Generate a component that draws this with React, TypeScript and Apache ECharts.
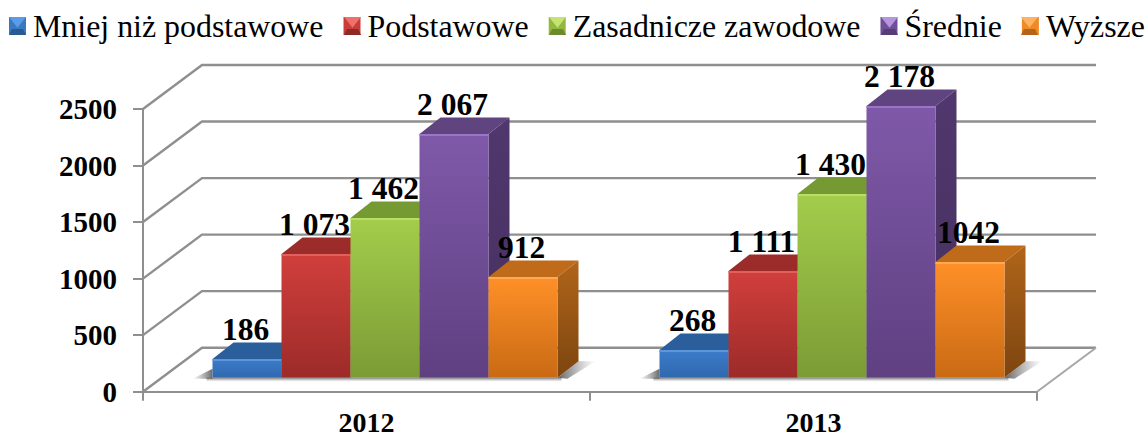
import React, { useEffect, useRef } from "react";
import * as echarts from "echarts";

const years = ["2012", "2013"];
const yTicks = [0, 500, 1000, 1500, 2000, 2500];
const seriesNames = ["Mniej niż podstawowe", "Podstawowe", "Zasadnicze zawodowe", "Średnie", "Wyższe"];
// drawn heights (the picture's printed labels differ from them)
const mniej = [165, 245];
const podstawowe = [1094, 944];
const zasadnicze = [1412, 1625];
const srednie = [2155, 2403];
const wyzsze = [890, 1023];
const mniejLabels = ["186", "268"];
const podstawoweLabels = ["1 073", "1 111"];
const zasadniczeLabels = ["1 462", "1 430"];
const srednieLabels = ["2 067", "2 178"];
const wyzszeLabels = ["912", "1042"];

const allValues = [mniej, podstawowe, zasadnicze, srednie, wyzsze];
const allLabels = [mniejLabels, podstawoweLabels, zasadniczeLabels, srednieLabels, wyzszeLabels];

const palette = [
  { base: "#3a78c2", light: "#3c7ccb", dark: "#3068ae", top: "#2b5f9c", sideA: "#2a5a94", sideB: "#234c7e", hi: "#5c97dc", iconTop: "#5b9ce6", iconBot: "#2a5a8f" },
  { base: "#c93c39", light: "#d13f3c", dark: "#9c2b29", top: "#9c2c2a", sideA: "#98302e", sideB: "#7a2423", hi: "#e2605c", iconTop: "#ef6f6b", iconBot: "#8c2a28" },
  { base: "#93b83f", light: "#a3cd4b", dark: "#7b9b35", top: "#769a33", sideA: "#76962f", sideB: "#5f7a26", hi: "#b9dd66", iconTop: "#c5e46f", iconBot: "#6d8a2e" },
  { base: "#6f4f97", light: "#7f59a9", dark: "#5f4081", top: "#60447f", sideA: "#50376d", sideB: "#46305f", hi: "#9a76c4", iconTop: "#b596dc", iconBot: "#573d78" },
  { base: "#ef8a24", light: "#ff9028", dark: "#c96a14", top: "#c06b1a", sideA: "#b0651a", sideB: "#7d4510", hi: "#ffab55", iconTop: "#ffb264", iconBot: "#b5621a" },
];

const GRAY = "#8f8f8f";
const FONT = '"Liberation Serif", "Times New Roman", serif';
const WALL_DX = 59;
const WALL_DY = 44;
const BAR_SHIFT_X = 18.5;
const BAR_LIFT = 14;
const BAR_DX = 21;
const BAR_DY = 16.5;
const BAR_W = 69;
const ICON_LEFT = [9, 344, 549, 881, 1021];
const ICON_TOP = 17;
const ICON_W = 17;
const ICON_H = 18;

function wallItem(params: any, api: any) {
  const v = api.value(0);
  const cs = params.coordSys;
  const y = api.coord([0, v])[1];
  const left = cs.x;
  const right = cs.x + cs.width;
  const line = { stroke: GRAY, lineWidth: 2.4, fill: "none" };
  const children: any[] = [
    { type: "polyline", shape: { points: [[left, y], [left + WALL_DX, y - WALL_DY], [right + WALL_DX, y - WALL_DY]] }, style: line },
  ];
  if (v === 0) {
    children.push({ type: "line", shape: { x1: right, y1: y, x2: right + WALL_DX, y2: y - WALL_DY }, style: { stroke: "#a6a6a6", lineWidth: 2 } });
  }
  return { type: "group", children };
}

function shadowItem(params: any, api: any) {
  const c = api.coord([api.value(0), 0]);
  const cl = c[0] + BAR_SHIFT_X - 2.5 * BAR_W;
  const cr = cl + 5 * BAR_W;
  const base = c[1] - BAR_LIFT;
  const horiz = (a: string, b: string) => ({ type: "linear", x: 0, y: 0, x2: 1, y2: 0, colorStops: [{ offset: 0, color: a }, { offset: 1, color: b }] });
  const down = { type: "linear", x: 0, y: 0, x2: 0, y2: 1, colorStops: [{ offset: 0, color: "rgba(90,90,90,0.8)" }, { offset: 1, color: "rgba(150,150,150,0)" }] };
  return {
    type: "group",
    children: [
      { type: "polygon", shape: { points: [[cl - 20, base + 1], [cl, base - 9], [cl, base + 1]] }, style: { fill: horiz("rgba(110,110,110,0)", "rgba(80,80,80,0.85)") } },
      { type: "polygon", shape: { points: [[cr, base], [cr + BAR_DX, base - BAR_DY], [cr + 38, base - BAR_DY], [cr + 10, base + 1]] }, style: { fill: horiz("rgba(80,80,80,0.9)", "rgba(130,130,130,0)") } },
      { type: "rect", shape: { x: cl - 6, y: base, width: 5 * BAR_W + 10, height: 4 }, style: { fill: down } },
    ],
  };
}

function barItem(s: number) {
  return (params: any, api: any) => {
    const idx = api.value(0);
    const p = palette[s];
    const top = api.coord([idx, api.value(1)]);
    const zero = api.coord([idx, 0]);
    const x = zero[0] + BAR_SHIFT_X + (s - 2.5) * BAR_W;
    const yb = zero[1] - BAR_LIFT;
    const yt = top[1] - BAR_LIFT;
    const x2 = x + BAR_W;
    const vert = (a: string, b: string) => ({ type: "linear", x: 0, y: 0, x2: 0, y2: 1, colorStops: [{ offset: 0, color: a }, { offset: 1, color: b }] });
    return {
      type: "group",
      children: [
        { type: "polygon", shape: { points: [[x, yt], [x + BAR_DX, yt - BAR_DY], [x2 + BAR_DX, yt - BAR_DY], [x2, yt]] }, style: { fill: p.top } },
        { type: "polygon", shape: { points: [[x2, yt], [x2 + BAR_DX, yt - BAR_DY], [x2 + BAR_DX, yb - BAR_DY], [x2, yb]] }, style: { fill: vert(p.sideA, p.sideB) } },
        { type: "rect", shape: { x, y: yt, width: BAR_W, height: yb - yt }, style: { fill: vert(p.light, p.dark) } },
        { type: "rect", shape: { x, y: yt, width: BAR_W, height: 2 }, style: { fill: p.hi } },
        {
          type: "text",
          z2: 100,
          style: {
            x: x + BAR_W / 2 - 1.5,
            y: yt - BAR_DY + 3,
            text: allLabels[s][params.dataIndex],
            fill: "#000",
            align: "center",
            verticalAlign: "bottom",
            font: `bold 31.5px ${FONT}`,
          },
        },
      ],
    };
  };
}

function iconBevels() {
  const out: any[] = [];
  ICON_LEFT.forEach((l, i) => {
    const p = palette[i];
    const r = l + ICON_W;
    const b = ICON_TOP + ICON_H;
    const ix = 3;
    const midY = ICON_TOP + ICON_H * 0.48;
    out.push({ type: "polygon", z: 20, shape: { points: [[l, ICON_TOP], [r, ICON_TOP], [l + ICON_W / 2, midY + 2]] }, style: { fill: p.iconTop } });
    out.push({ type: "polygon", z: 20, shape: { points: [[l, b], [r, b], [r - ix, b - 6], [l + ix, b - 6]] }, style: { fill: p.iconBot } });
  });
  return out;
}

export default function App() {
  const ref = useRef<HTMLDivElement>(null);
  useEffect(() => {
    const chart = echarts.init(ref.current!, null, { renderer: "svg" });
    const barSeries = seriesNames.map((name, s) => ({
      type: "custom",
      name,
      z: 5,
      renderItem: barItem(s),
      itemStyle: { color: palette[s].base },
      encode: { x: 0, y: 1 },
      data: allValues[s].map((v, i) => [i, v]),
    }));
    chart.setOption({
      animation: false,
      backgroundColor: "#fff",
      textStyle: { fontFamily: FONT },
      legend: {
        left: 9,
        top: 10,
        width: 1300,
        itemGap: 20,
        itemWidth: ICON_W,
        itemHeight: ICON_H,
        selectedMode: false,
        padding: 0,
        icon: "rect",
        textStyle: { fontFamily: FONT, fontSize: 31.9, color: "#000", padding: [0, 0, 0, 2] },
        data: seriesNames.map((name, s) => ({ name, icon: "rect", itemStyle: { color: palette[s].base } })),
      },
      grid: { left: 143, top: 109, width: 894, height: 282.7, containLabel: false, outerBoundsMode: "none" },
      xAxis: {
        type: "category",
        data: years,
        axisLine: { show: true, lineStyle: { color: GRAY, width: 2 } },
        axisTick: { show: true, length: 9, lineStyle: { color: GRAY, width: 2 } },
        axisLabel: { color: "#000", fontFamily: FONT, fontWeight: "bold", fontSize: 28, margin: 17, lineHeight: 28 },
        splitLine: { show: false },
      },
      yAxis: {
        type: "value",
        min: 0,
        max: 2500,
        interval: 500,
        axisLine: { show: true, lineStyle: { color: GRAY, width: 2 } },
        axisTick: { show: true, length: 10, lineStyle: { color: GRAY, width: 2 } },
        axisLabel: { color: "#000", fontFamily: FONT, fontWeight: "bold", fontSize: 29, margin: 26, formatter: (v: number) => String(v), padding: [3, 0, 0, 0] },
        splitLine: { show: false },
      },
      graphic: iconBevels(),
      series: [
        { type: "custom", name: "walls", z: 1, silent: true, renderItem: wallItem, encode: { y: 0 }, data: yTicks.map((v) => [v]) },
        { type: "custom", name: "floor shadow", z: 2, silent: true, renderItem: shadowItem, encode: { x: 0 }, data: years.map((_, i) => [i]) },
        ...barSeries,
      ],
    });
    return () => chart.dispose();
  }, []);
  return <div ref={ref} style={{ position: "absolute", left: 0, top: 0, width: 1147, height: 437 }} />;
}
